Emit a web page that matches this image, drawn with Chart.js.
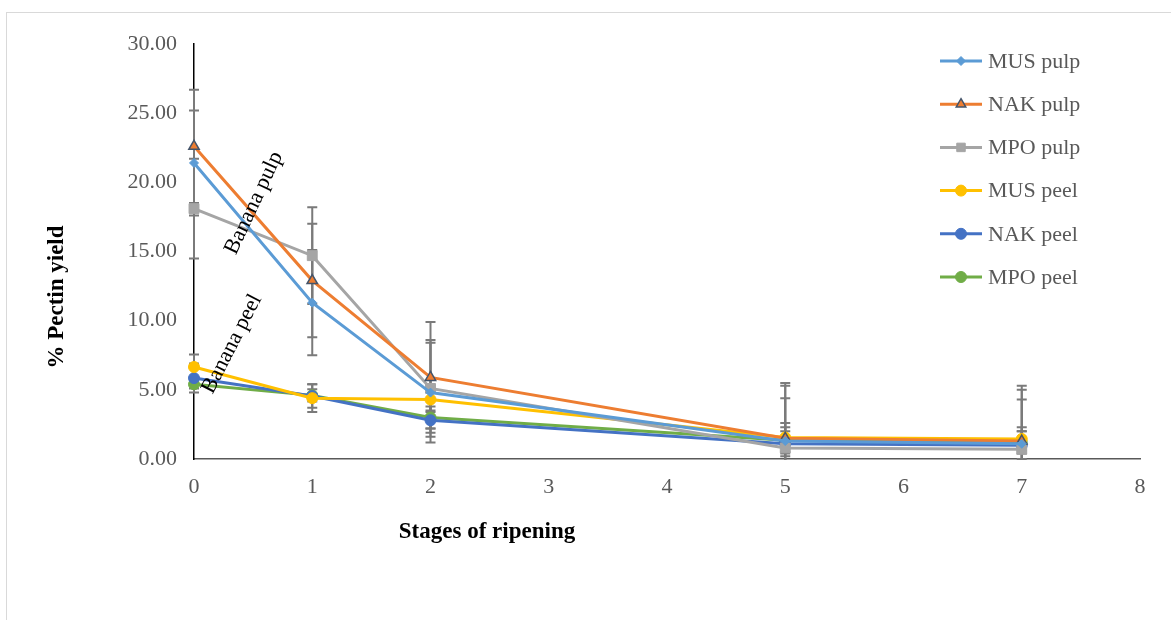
<!DOCTYPE html>
<html>
<head>
<meta charset="utf-8">
<script src="https://cdn.jsdelivr.net/npm/chart.js@4.4.1/dist/chart.umd.min.js"></script>
<style>
  body { margin: 0; background: #fff; }
  #wrap { position: relative; width: 1171px; height: 620px; overflow: hidden; }
  #frame { position: absolute; left: 6px; top: 12px; width: 1200px; height: 700px; border: 1px solid #d9d9d9; }
  canvas { position: absolute; left: 0; top: 0; }
</style>
</head>
<body>
<div id="wrap">
  <div id="frame"></div>
  <canvas id="chart" width="1171" height="620"></canvas>
</div>
<script>
// stages of ripening
const stages = [0, 1, 2, 5, 7];

// % pectin yield
const musPulp = [21.4, 11.3, 4.8, 1.3, 1.1];
const nakPulp = [22.6, 12.9, 5.9, 1.5, 1.3];
const mpoPulp = [18.1, 14.7, 5.1, 0.8, 0.7];
const musPeel = [6.65, 4.4, 4.3, 1.55, 1.45];
const nakPeel = [5.85, 4.55, 2.8, 1.1, 1.0];
const mpoPeel = [5.4, 4.6, 3.0, 1.35, 1.2];

// error bar half widths (+/-)
const musPulpErr = [3.8, 3.8, 3.6, 4.0, 3.9];
const nakPulpErr = [4.1, 4.1, 4.0, 4.0, 4.0];
const mpoPulpErr = [3.6, 3.5, 3.5, 3.6, 3.6];
const musPeelErr = [0.9, 1.0, 0.8, 1.05, 0.85];
const nakPeelErr = [1.05, 0.85, 0.6, 0.9, 1.0];
const mpoPeelErr = [0.3, 0.45, 0.8, 0.95, 0.8];

const yTicks = [0, 5, 10, 15, 20, 25, 30];
const xTicks = [0, 1, 2, 3, 4, 5, 6, 7, 8];

const serif = '"Liberation Serif", "Times New Roman", serif';

const pts = (vals) => vals.map((v, i) => ({x: stages[i], y: v}));

function series(label, vals, errs, color, style, radius, border) {
  return {
    label: label,
    data: pts(vals),
    errors: errs,
    borderColor: color,
    backgroundColor: color,
    borderWidth: 3,
    pointStyle: style,
    pointRadius: radius,
    pointHoverRadius: radius,
    pointBackgroundColor: color,
    pointBorderColor: border || color,
    pointBorderWidth: border ? 1.5 : 1,
    tension: 0,
    clip: false
  };
}

const datasets = [
  series('MUS pulp', musPulp, musPulpErr, '#5B9BD5', 'rectRot', 4.5),
  series('NAK pulp', nakPulp, nakPulpErr, '#ED7D31', 'triangle', 6, '#44546A'),
  series('MPO pulp', mpoPulp, mpoPulpErr, '#A5A5A5', 'rect', 7),
  series('MUS peel', musPeel, musPeelErr, '#FFC000', 'circle', 5.5),
  series('NAK peel', nakPeel, nakPeelErr, '#4472C4', 'circle', 5.5),
  series('MPO peel', mpoPeel, mpoPeelErr, '#70AD47', 'circle', 5.5)
];

// gray error bars with caps, drawn under the lines
const errorBars = {
  id: 'errorBars',
  beforeDatasetsDraw(chart) {
    const {ctx, chartArea, scales: {x, y}} = chart;
    ctx.save();
    ctx.beginPath();
    ctx.rect(chartArea.left - 10, chartArea.top, chartArea.right - chartArea.left + 20, chartArea.bottom - chartArea.top + 1);
    ctx.clip();
    ctx.strokeStyle = '#7a7a7a';
    ctx.lineWidth = 2;
    chart.data.datasets.forEach(ds => {
      ds.data.forEach((p, i) => {
        const e = ds.errors[i];
        const px = x.getPixelForValue(p.x);
        const top = y.getPixelForValue(p.y + e);
        const bot = y.getPixelForValue(p.y - e);
        ctx.beginPath();
        ctx.moveTo(px, top); ctx.lineTo(px, bot);
        ctx.moveTo(px - 5, top); ctx.lineTo(px + 5, top);
        ctx.moveTo(px - 5, bot); ctx.lineTo(px + 5, bot);
        ctx.stroke();
      });
    });
    ctx.restore();
  }
};

// axis titles, rotated labels and legend
const extras = {
  id: 'extras',
  afterDraw(chart) {
    const {ctx} = chart;
    ctx.save();
    ctx.fillStyle = '#000';
    ctx.font = 'bold 23px ' + serif;
    ctx.textAlign = 'center';
    ctx.textBaseline = 'middle';
    ctx.fillText('Stages of ripening', 487, 532);
    ctx.save();
    ctx.translate(57, 297);
    ctx.rotate(-Math.PI / 2);
    ctx.fillText('% Pectin yield', 0, 0);
    ctx.restore();

    ctx.font = '22px ' + serif;
    ctx.save();
    ctx.translate(254, 203);
    ctx.rotate(-65 * Math.PI / 180);
    ctx.fillText('Banana pulp', 0, 0);
    ctx.restore();
    ctx.save();
    ctx.translate(232, 344);
    ctx.rotate(-63 * Math.PI / 180);
    ctx.fillText('Banana peel', 0, 0);
    ctx.restore();

    // legend
    ctx.textAlign = 'left';
    ctx.font = '22px ' + serif;
    chart.data.datasets.forEach((ds, i) => {
      const ly = 61 + i * 43.2;
      ctx.strokeStyle = ds.borderColor;
      ctx.lineWidth = 3;
      ctx.beginPath();
      ctx.moveTo(940, ly); ctx.lineTo(982, ly);
      ctx.stroke();
      ctx.fillStyle = ds.pointBackgroundColor;
      ctx.strokeStyle = ds.pointBorderColor;
      ctx.lineWidth = ds.pointBorderWidth;
      Chart.helpers.drawPoint(ctx, {
        pointStyle: ds.pointStyle,
        radius: ds.pointStyle === 'rect' ? 6 : (ds.pointStyle === 'triangle' ? 5.5 : ds.pointRadius),
        borderWidth: ds.pointBorderWidth,
        rotation: 0
      }, 961, ly);
      ctx.fillStyle = '#595959';
      ctx.fillText(ds.label, 988, ly + 1);
    });
    ctx.restore();
  }
};

new Chart(document.getElementById('chart'), {
  type: 'line',
  data: {datasets: datasets},
  plugins: [errorBars, extras],
  options: {
    responsive: false,
    animation: false,
    layout: {padding: {left: 0, top: 44, right: 31, bottom: 0}},
    plugins: {legend: {display: false}, tooltip: {enabled: false}},
    scales: {
      x: {
        type: 'linear',
        min: 0, max: 8,
        afterFit(s) { s.height = 161; },
        afterBuildTicks(s) { s.ticks = xTicks.map(v => ({value: v})); },
        grid: {display: false, drawTicks: false},
        border: {color: '#595959', width: 1.5},
        ticks: {color: '#595959', font: {family: serif, size: 22}, padding: 15}
      },
      y: {
        min: 0, max: 30,
        afterFit(s) { s.width = 194; },
        afterBuildTicks(s) { s.ticks = yTicks.map(v => ({value: v})); },
        grid: {display: false, drawTicks: false},
        border: {color: '#000', width: 1.5},
        ticks: {color: '#595959', font: {family: serif, size: 22}, padding: 17,
                callback: v => v.toFixed(2)}
      }
    }
  }
});
</script>
</body>
</html>
